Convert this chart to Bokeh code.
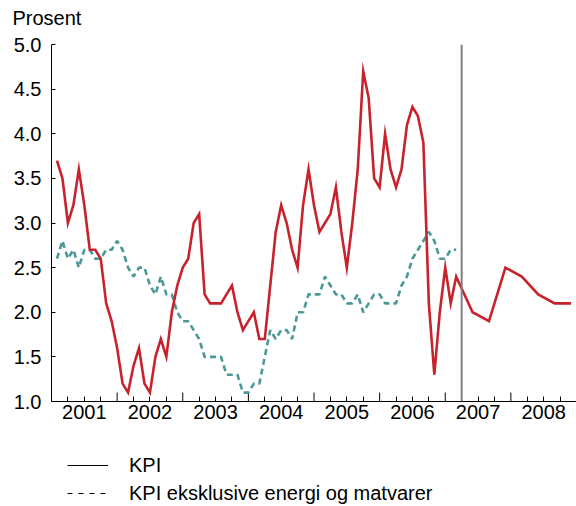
import numpy as np
from bokeh.plotting import figure
from bokeh.layouts import column
from bokeh.models import (LinearAxis, FixedTicker, Span, Legend, LegendItem,
                          Range1d, PrintfTickFormatter, ColumnDataSource)
from bokeh.embed import file_html
from bokeh.resources import INLINE

FONT = "Liberation Sans"

# ---------------- data ----------------
first_month = (2001, 1)          # monthly series start (Jan 2001)
years = [2001, 2002, 2003, 2004, 2005, 2006, 2007, 2008]
year_labels = ["2001", "2002", "2003", "2004", "2005", "2006", "2007", "2008"]
y_ticks = [1.0, 1.5, 2.0, 2.5, 3.0, 3.5, 4.0, 4.5, 5.0]
unit_label = "Prosent"

# KPI, 12-month change, monthly Jan 2001 - Feb 2007
kpi = [3.7, 3.5, 3.0, 3.2, 3.6, 3.2, 2.7, 2.7, 2.6, 2.1, 1.9, 1.6,
       1.2, 1.1, 1.4, 1.6, 1.2, 1.1, 1.5, 1.7, 1.5, 2.0, 2.3, 2.5,
       2.6, 3.0, 3.1, 2.2, 2.1, 2.1, 2.1, 2.2, 2.3, 2.0, 1.8, 1.9,
       2.0, 1.7, 1.7, 2.3, 2.9, 3.2, 3.0, 2.7, 2.5, 3.2, 3.6, 3.2,
       2.9, 3.0, 3.1, 3.4, 2.9, 2.5, 3.0, 3.6, 4.7, 4.4, 3.5, 3.4,
       4.0, 3.6, 3.4, 3.6, 4.1, 4.3, 4.2, 3.9, 2.1, 1.3, 2.0, 2.5,
       2.1, 2.4]

# KPI eksklusive energi og matvarer, monthly Jan 2001 - Feb 2007
kpi_jae = [2.6, 2.8, 2.6, 2.7, 2.5, 2.7, 2.7, 2.6, 2.6, 2.7, 2.7, 2.8,
           2.7, 2.5, 2.4, 2.5, 2.5, 2.3, 2.2, 2.4, 2.2, 2.2, 2.0, 1.9,
           1.9, 1.8, 1.7, 1.5, 1.5, 1.5, 1.5, 1.3, 1.3, 1.3, 1.1, 1.1,
           1.2, 1.2, 1.5, 1.8, 1.7, 1.8, 1.8, 1.7, 2.0, 2.0, 2.2, 2.2,
           2.2, 2.4, 2.3, 2.2, 2.2, 2.1, 2.1, 2.2, 2.0, 2.1, 2.2, 2.2,
           2.1, 2.1, 2.1, 2.3, 2.4, 2.6, 2.7, 2.8, 2.9, 2.8, 2.6, 2.6,
           2.7, 2.7]

# KPI projections, quarterly 2007 Q2 - 2008 Q4
proj_quarters = [(2007, 2), (2007, 3), (2007, 4), (2008, 1), (2008, 2), (2008, 3), (2008, 4)]
kpi_proj = [2.0, 1.9, 2.5, 2.4, 2.2, 2.1, 2.1]

forecast_line_month = (2007, 3)   # vertical divider after March 2007

legend_labels = ["KPI", "KPI eksklusive energi og matvarer"]

# ---------------- positions on a decimal-year scale ----------------
def month_pos(year, month):
    # monthly observations are plotted at the end of their month
    return year + month / 12.0

def quarter_pos(year, q):
    return month_pos(year, 3 * q - 1)   # middle month of the quarter

n = len(kpi)
months_x = [month_pos(first_month[0] + (first_month[1] - 1 + i) // 12,
                      (first_month[1] - 1 + i) % 12 + 1) for i in range(n)]
proj_x = [quarter_pos(y, q) for (y, q) in proj_quarters]

kpi_src = ColumnDataSource(dict(x=months_x + proj_x, y=kpi + kpi_proj))
jae_src = ColumnDataSource(dict(x=months_x, y=kpi_jae))

RED = "#C8232C"
TEAL = "#4A9898"
W = 576
H_TOP = 34
H_PLOT = 396
H_LEG = 76

def bare(fig):
    fig.outline_line_color = None
    fig.grid.visible = False
    fig.background_fill_color = "white"
    fig.border_fill_color = "white"

# ---------------- unit label strip ("Prosent") ----------------
top = figure(width=W, height=H_TOP, output_backend="svg", toolbar_location=None,
             x_axis_type=None, y_axis_type=None, title=unit_label,
             x_range=Range1d(0, 1), y_range=Range1d(0, 1),
             min_border_left=0, min_border_right=0, min_border_top=0, min_border_bottom=0)
bare(top)
top.title.text_font = FONT
top.title.text_font_size = "20px"
top.title.text_font_style = "normal"
top.title.text_color = "black"
top.title.align = "left"
top.title.offset = -39
top.title.standoff = 8

# ---------------- main chart ----------------
p = figure(width=W, height=H_PLOT, output_backend="svg", toolbar_location=None,
           x_range=Range1d(years[0], years[-1] + 1), y_range=Range1d(1.0, 5.0),
           x_axis_type=None,
           min_border_left=51, min_border_right=0, min_border_top=10,
           min_border_bottom=29)
bare(p)

# y axis
ya = p.yaxis[0]
ya.ticker = FixedTicker(ticks=y_ticks)
ya.formatter = PrintfTickFormatter(format="%.1f")
ya.major_tick_in = 4
ya.major_tick_out = 0
ya.minor_tick_line_color = None
ya.major_label_text_font = FONT
ya.major_label_text_font_size = "20px"
ya.major_label_text_color = "black"
ya.major_label_standoff = 10
ya.axis_line_color = "black"
ya.major_tick_line_color = "black"

# x axis: year labels centred in each year, short quarter ticks
mid_years = [y + 0.5 for y in years]
quarter_ticks = [y + q / 4 for y in years for q in range(1, 4)]
label_axis = LinearAxis(ticker=FixedTicker(ticks=mid_years, minor_ticks=quarter_ticks),
                        major_label_overrides={m: lab for m, lab in zip(mid_years, year_labels)},
                        axis_line_color="black", major_tick_line_color=None,
                        major_tick_in=0, major_tick_out=0,
                        minor_tick_in=5, minor_tick_out=0, minor_tick_line_color="black",
                        major_label_standoff=3, major_label_text_font=FONT,
                        major_label_text_font_size="20px", major_label_text_color="black")
p.add_layout(label_axis, "below")

# longer tick marks at the year boundaries (inside the frame)
YEAR_TICK = 0.1   # tick length in y units (about 9 px)
year_bounds = years + [years[-1] + 1]
p.segment(x0=year_bounds, y0=[1.0] * len(year_bounds),
          x1=year_bounds, y1=[1.0 + YEAR_TICK] * len(year_bounds),
          line_color="black", line_width=1)

# lines
p.line("x", "y", source=jae_src, line_color=TEAL, line_width=2.6, line_dash="6 4")
p.line("x", "y", source=kpi_src, line_color=RED, line_width=2.6, line_join="miter")

p.add_layout(Span(location=month_pos(*forecast_line_month), dimension="height",
                  line_color="#808080", line_width=2))

# ---------------- legend strip below the chart ----------------
lg = figure(width=W, height=H_LEG, output_backend="svg", toolbar_location=None,
            x_axis_type=None, y_axis_type=None,
            x_range=Range1d(0, 1), y_range=Range1d(0, 1),
            min_border_left=0, min_border_right=0, min_border_top=0, min_border_bottom=0)
bare(lg)
# legend-key renderers (black sample lines, as in the original key); a single
# missing point draws nothing in the strip itself
r1 = lg.line(x=[np.nan], y=[np.nan], line_color="black", line_width=1.2)
r2 = lg.line(x=[np.nan], y=[np.nan], line_color="black", line_width=1.2, line_dash="5 6")
legend = Legend(items=[LegendItem(label=legend_labels[0], renderers=[r1]),
                       LegendItem(label=legend_labels[1], renderers=[r2])],
                location=(16, 1), orientation="vertical",
                border_line_color=None, background_fill_alpha=0,
                label_text_font=FONT, label_text_font_size="20px", label_text_color="black",
                glyph_width=41, glyph_height=24, label_height=24, label_standoff=21,
                spacing=4, padding=0, margin=0)
lg.add_layout(legend)

open("out.html", "w").write(file_html(column(top, p, lg, spacing=0), INLINE))
